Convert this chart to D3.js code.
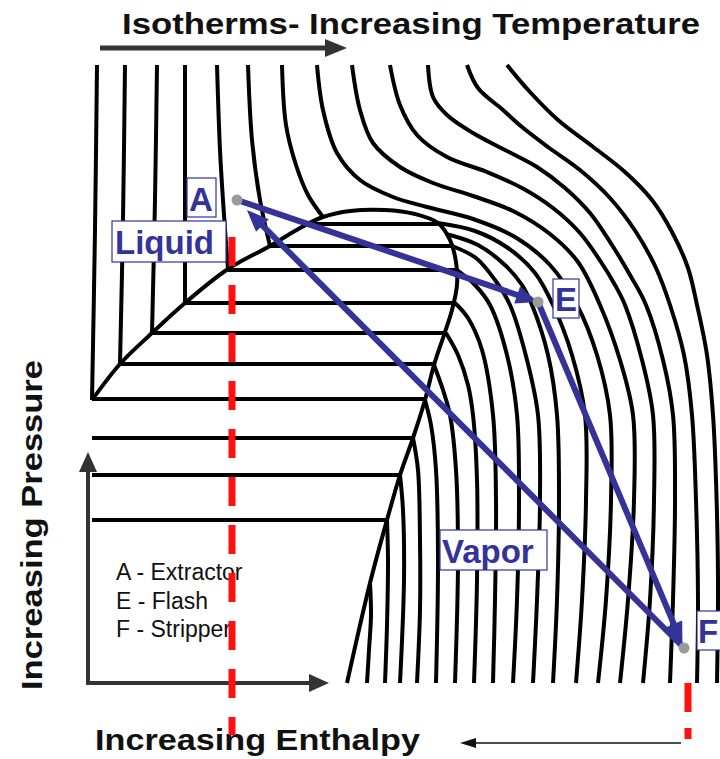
<!DOCTYPE html>
<html>
<head>
<meta charset="utf-8">
<script src="https://cdn.jsdelivr.net/npm/d3@7"></script>
<style>
  body { margin: 0; background: #fff; }
  svg { display: block; font-family: "Liberation Sans", Arial, sans-serif; }
</style>
</head>
<body>
<div id="chart"></div>
<script>
// schematic P-H diagram, values in diagram units (enthalpy across, pressure down the page)
const domeCurve = [[92,400],[120,364],[152,333],[185,303],[228,269],[270,246],[300,228],[323,217],[350,211],
  [385,210],[415,214],[438,223],[450,240],[456,262],[457,285],[452,310],[444,335],[434,365],[425,400],
  [413,438],[400,475],[387,520],[370,583],[347,683]];

// [pressure, left enthalpy, right enthalpy]
const tieLines = [[224,308,438],[246,270,452],[270,228,457],[303,185,455],[333,152,446],[364,120,434],
  [399,92,425],[438,92,413],[475,92,400],[520,92,387]];

const liquidIsotherms = [
  [[97,65],[95,230],[92,400]],
  [[125,65],[123,220],[120,364]],
  [[157,65],[155,200],[152,333]],
  [[185,65],[185,190],[185,303]],
  [[217,65],[220,150],[224,215],[228,269]],
  [[248,65],[252,140],[260,200],[270,246]],
  [[282,65],[286,125],[296,165],[308,195],[323,217]]
];

const vaporIsotherms = [
  [[370,583],[371,615],[369,650],[367,683]],
  [[387,520],[388,560],[387,625],[385,683]],
  [[400,475],[403,510],[404,580],[400,683]],
  [[413,438],[418,470],[420,540],[420,610],[417,683]],
  [[425,400],[431,425],[436,470],[438,560],[436,683]],
  [[434,365],[443,390],[450,415],[456,470],[458,560],[455,683]],
  [[446,333],[458,355],[468,385],[473,415],[477,480],[477,580],[474,683]],
  [[455,303],[468,318],[482,350],[493,415],[496,500],[495,600],[493,683]],
  [[457,270],[475,285],[490,305],[507,355],[517,415],[519,500],[517,600],[513,683]],
  [[452,246],[476,258],[495,280],[510,305],[527,360],[538,415],[540,500],[537,600],[533,683]],
  [[446,234],[478,245],[506,266],[522,285],[532,305],[548,355],[557,415],[559,500],[557,600],[553,683]],
  [[438,223],[475,231],[508,248],[535,273],[553,305],[572,355],[585,415],[586,500],[582,600],[576,683]]
];

const superIsotherms = [
  [[317,65],[323,110],[337,153],[360,180],[393,197],[427,207],[473,219],[515,237],[550,265],[577,305],[597,355],[610,415],[611,500],[606,600],[598,683]],
  [[352,65],[360,110],[373,143],[400,167],[433,183],[473,196],[513,211],[550,234],[578,262],[600,305],[620,360],[633,415],[634,500],[628,600],[620,683]],
  [[390,65],[400,105],[417,135],[447,157],[487,172],[522,188],[553,208],[580,233],[601,262],[615,285],[625,305],[642,360],[653,415],[654,500],[650,600],[643,683]],
  [[428,65],[433,97],[447,115],[473,133],[505,150],[537,167],[565,188],[590,213],[612,245],[630,275],[646,305],[663,360],[673,415],[675,500],[673,600],[670,683]],
  [[467,65],[478,88],[503,110],[522,127],[548,147],[580,170],[610,198],[636,232],[656,268],[670,305],[684,355],[692,415],[696,500],[698,600],[697,683]],
  [[507,65],[530,92],[558,120],[592,146],[625,172],[652,200],[672,232],[688,268],[697,305],[707,355],[713,415],[716,480],[718,580],[717,683]]
];

const streams = [
  {name: "A", h: 237, p: 200},
  {name: "E", h: 538, p: 302},
  {name: "F", h: 684, p: 648}
];
const streamPath = [["A","E"],["E","F"],["F","A"]];
const legendLines = ["A - Extractor", "E - Flash", "F - Stripper"];
const cutLines = [{h: 232, p0: 237, p1: 735}, {h: 688, p0: 683, p1: 739}];

const width = 720, height = 759;
const x = d3.scaleLinear().domain([0, 720]).range([0, width]);
const y = d3.scaleLinear().domain([0, 759]).range([0, height]);
const blue = "#333399";

const svg = d3.select("#chart").append("svg")
    .attr("width", width)
    .attr("height", height);

const line = d3.line()
    .x(d => x(d[0]))
    .y(d => y(d[1]))
    .curve(d3.curveCatmullRom.alpha(0.5));

function arrowHead(x1, y1, x2, y2, len, half) {
  const a = Math.atan2(y2 - y1, x2 - x1);
  const bx = x2 - len * Math.cos(a), by = y2 - len * Math.sin(a);
  return [[x2, y2],
          [bx + half * Math.sin(a), by - half * Math.cos(a)],
          [bx - half * Math.sin(a), by + half * Math.cos(a)]];
}

function arrow(g, x1, y1, x2, y2, color, w, len, half) {
  const a = Math.atan2(y2 - y1, x2 - x1);
  g.append("line")
      .attr("x1", x1).attr("y1", y1)
      .attr("x2", x2 - len * 0.8 * Math.cos(a))
      .attr("y2", y2 - len * 0.8 * Math.sin(a))
      .attr("stroke", color)
      .attr("stroke-width", w);
  g.append("polygon")
      .attr("points", arrowHead(x1, y1, x2, y2, len, half).map(p => p.join(",")).join(" "))
      .attr("fill", color);
}

// isotherms and dome
const iso = svg.append("g")
    .attr("fill", "none")
    .attr("stroke", "#000")
    .attr("stroke-width", 4)
    .attr("stroke-linejoin", "round");

iso.selectAll("path.liq")
  .data(liquidIsotherms)
  .join("path")
    .attr("class", "liq")
    .attr("d", line);

iso.selectAll("path.vap")
  .data(vaporIsotherms)
  .join("path")
    .attr("class", "vap")
    .attr("d", line);

iso.selectAll("path.sup")
  .data(superIsotherms)
  .join("path")
    .attr("class", "sup")
    .attr("d", line);

iso.selectAll("line.tie")
  .data(tieLines)
  .join("line")
    .attr("class", "tie")
    .attr("x1", d => x(d[1]))
    .attr("x2", d => x(d[2]))
    .attr("y1", d => y(d[0]))
    .attr("y2", d => y(d[0]));

iso.append("path")
    .attr("d", line(domeCurve));

// axes arrows
const ax = svg.append("g");
arrow(ax, x(88), y(685), x(88), y(452), "#333", 4, 20, 9);
arrow(ax, x(86), y(683), x(329), y(683), "#333", 4, 20, 9);
arrow(ax, 100, 48, 347, 48, "#333", 5, 22, 9);
arrow(ax, 681, 743, 460, 743, "#111", 1.6, 16, 5);

svg.append("text")
    .attr("x", 122).attr("y", 34)
    .attr("font-size", 30).attr("font-weight", "bold")
    .attr("fill", "#111")
    .attr("textLength", 578).attr("lengthAdjust", "spacingAndGlyphs")
    .text("Isotherms- Increasing Temperature");

svg.append("text")
    .attr("transform", "translate(42,690) rotate(-90)")
    .attr("font-size", 30).attr("font-weight", "bold")
    .attr("fill", "#111")
    .attr("textLength", 330).attr("lengthAdjust", "spacingAndGlyphs")
    .text("Increasing Pressure");

svg.append("text")
    .attr("x", 95).attr("y", 750)
    .attr("font-size", 30).attr("font-weight", "bold")
    .attr("fill", "#111")
    .attr("textLength", 325).attr("lengthAdjust", "spacingAndGlyphs")
    .text("Increasing Enthalpy");

// legend
svg.append("g")
  .selectAll("text")
  .data(legendLines)
  .join("text")
    .attr("x", 116)
    .attr("y", (d, i) => 580 + i * 28.5)
    .attr("font-size", 23)
    .attr("fill", "#111")
    .text(d => d);

// red cut lines
svg.append("g")
  .selectAll("line")
  .data(cutLines)
  .join("line")
    .attr("x1", d => x(d.h)).attr("x2", d => x(d.h))
    .attr("y1", d => y(d.p0)).attr("y2", d => y(d.p1))
    .attr("stroke", "#ff1010")
    .attr("stroke-width", 7)
    .attr("stroke-dasharray", (d, i) => i ? "29 16" : "29 19");

// process path
const byName = Object.fromEntries(streams.map(s => [s.name, s]));
const proc = svg.append("g");
const shorten = {A: 14, E: 0, F: 4};
streamPath.forEach(([from, to]) => {
  const s = byName[from], t = byName[to];
  const x1 = x(s.h), y1 = y(s.p), x2 = x(t.h), y2 = y(t.p);
  const a = Math.atan2(y2 - y1, x2 - x1);
  const k = shorten[to];
  arrow(proc, x1, y1, x2 - k * Math.cos(a), y2 - k * Math.sin(a), blue, 6, 22, 9);
});

proc.selectAll("circle")
  .data(streams)
  .join("circle")
    .attr("cx", d => x(d.h))
    .attr("cy", d => y(d.p))
    .attr("r", 5.5)
    .attr("fill", "#9a9a9a");

// boxed labels
const boxes = [
  {text: "A", x0: 187, y0: 178, w: 29, h: 39, tx: 189, ty: 211},
  {text: "Liquid", x0: 112, y0: 221, w: 114, h: 41, tx: 115, ty: 254},
  {text: "E", x0: 553, y0: 279, w: 26, h: 39, tx: 555, ty: 311},
  {text: "F", x0: 697, y0: 611, w: 24, h: 39, tx: 698, ty: 643},
  {text: "Vapor", x0: 440, y0: 530, w: 107, h: 40, tx: 442, ty: 563}
];
const lab = svg.append("g")
  .selectAll("g")
  .data(boxes)
  .join("g");
lab.append("rect")
    .attr("x", d => d.x0).attr("y", d => d.y0)
    .attr("width", d => d.w).attr("height", d => d.h)
    .attr("fill", "#fff")
    .attr("stroke", blue)
    .attr("stroke-width", 1.2);
lab.append("text")
    .attr("x", d => d.tx).attr("y", d => d.ty)
    .attr("font-size", 33).attr("font-weight", "bold")
    .attr("fill", blue)
    .text(d => d.text);
</script>
</body>
</html>
